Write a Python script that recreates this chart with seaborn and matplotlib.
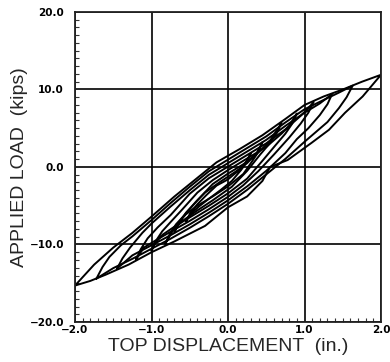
import matplotlib
matplotlib.use("Agg")
import matplotlib.pyplot as plt
from matplotlib.ticker import MultipleLocator, FixedLocator
import seaborn as sns
import pandas as pd

# ---- data (displacement in inches, load in kips) ----
# each cycle: negative tip -> upper branch -> positive tip -> lower branch -> negative tip
disp_1 = [-2.0, -1.75, -1.5, -1.25, -1.0, -0.7, -0.4, -0.15, 0.15, 0.45, 0.75, 1.0, 1.25, 1.5, 1.75, 2.0,
          1.76, 1.53, 1.32, 1.09, 0.78, 0.55, 0.45, 0.25, 0.0, -0.3, -0.7, -1.0, -1.3, -1.6, -1.8, -2.0]
load_1 = [-15.3, -12.6, -10.4, -8.5, -6.4, -3.8, -1.4, 0.6, 2.3, 4.1, 6.2, 8.0, 9.1, 10.0, 11.0, 11.9,
          9.1, 7.0, 4.8, 3.1, 0.9, 0.0, -1.8, -3.8, -5.2, -7.6, -9.6, -11.0, -12.6, -13.9, -14.7, -15.3]

disp_2 = [-1.72, -1.64, -1.55, -1.4, -1.25, -1.0, -0.75, -0.5, -0.25, 0.0, 0.25, 0.5, 0.75, 1.0, 1.25, 1.45, 1.63,
          1.55, 1.45, 1.3, 1.0, 0.75, 0.5, 0.25, 0.0, -0.25, -0.5, -0.75, -1.0, -1.25, -1.5, -1.72]
load_2 = [-14.4, -12.9, -11.6, -10.1, -8.95, -6.85, -4.65, -2.55, -0.55, 0.95, 2.45, 3.95, 5.75, 7.45, 8.65, 9.6, 10.5,
          9.0, 7.6, 5.8, 3.25, 1.05, -0.95, -2.95, -4.75, -6.35, -7.85, -9.25, -10.55, -11.85, -13.05, -14.4]

disp_3 = [-1.45, -1.38, -1.28, -1.12, -1.0, -0.75, -0.5, -0.25, 0.0, 0.25, 0.5, 0.75, 1.0, 1.2, 1.36,
          1.3, 1.2, 1.05, 0.9, 0.75, 0.5, 0.25, 0.0, -0.25, -0.5, -0.75, -1.0, -1.25, -1.45]
load_3 = [-13.1, -11.8, -10.4, -8.5, -7.3, -5.1, -3.0, -1.0, 0.5, 2.0, 3.5, 5.3, 7.0, 8.2, 9.4,
          8.1, 6.7, 5.0, 3.6, 1.8, -0.5, -2.5, -4.3, -5.9, -7.4, -8.8, -10.1, -11.4, -13.1]

disp_4 = [-1.2, -1.14, -1.05, -0.92, -0.75, -0.5, -0.25, 0.0, 0.25, 0.5, 0.75, 0.95, 1.05, 1.12,
          1.05, 0.95, 0.8, 0.6, 0.4, 0.2, 0.0, -0.25, -0.5, -0.75, -0.95, -1.1, -1.2]
load_4 = [-11.9, -10.6, -9.2, -7.8, -6.2, -3.45, -1.45, 0.05, 1.55, 3.05, 4.85, 6.6, 7.6, 8.4,
          7.0, 5.6, 3.8, 1.6, -0.5, -2.35, -3.85, -5.45, -6.95, -8.35, -9.5, -10.4, -11.9]

disp_5 = [-1.0, -0.94, -0.86, -0.75, -0.6, -0.4, -0.2, 0.0, 0.25, 0.5, 0.7, 0.8, 0.9,
          0.84, 0.75, 0.62, 0.45, 0.25, 0.0, -0.25, -0.5, -0.7, -0.85, -0.95, -1.0]
load_5 = [-10.8, -9.5, -8.3, -7.1, -5.5, -3.3, -1.7, -0.4, 1.1, 2.6, 4.3, 5.3, 6.9,
          5.6, 4.3, 2.8, 0.8, -1.5, -3.4, -5.0, -6.5, -7.7, -8.7, -9.8, -10.8]

disp_6 = [-0.82, -0.76, -0.68, -0.55, -0.4, -0.2, 0.0, 0.2, 0.4, 0.55, 0.7,
          0.64, 0.55, 0.42, 0.25, 0.05, -0.2, -0.4, -0.6, -0.72, -0.82]
load_6 = [-9.9, -8.6, -7.4, -6.0, -4.3, -2.2, -0.85, 0.35, 1.9, 3.4, 5.7,
          4.4, 3.1, 1.6, -0.5, -2.55, -4.3, -5.6, -7.0, -8.2, -9.9]

disp_7 = [-0.7, -0.64, -0.55, -0.42, -0.3, -0.1, 0.1, 0.25, 0.37, 0.45,
          0.4, 0.32, 0.2, 0.0, -0.2, -0.4, -0.55, -0.64, -0.7]
load_7 = [-8.4, -7.2, -5.9, -4.5, -3.3, -1.9, -0.6, 0.5, 1.7, 3.2,
          2.0, 0.8, -0.9, -2.5, -3.8, -5.0, -6.1, -7.1, -8.4]

disp_8 = [-0.55, -0.49, -0.4, -0.28, -0.15, 0.0, 0.12, 0.22, 0.3,
          0.25, 0.17, 0.05, -0.1, -0.25, -0.38, -0.48, -0.55]
load_8 = [-7.0, -5.9, -4.8, -3.6, -2.4, -1.6, -0.6, 0.4, 1.8,
          0.7, -0.4, -1.8, -3.0, -4.1, -5.1, -6.0, -7.0]

x_ticks = [-2.0, -1.0, 0.0, 1.0, 2.0]
y_ticks = [-20.0, -10.0, 0.0, 10.0, 20.0]
x_label = "TOP DISPLACEMENT  (in.)"
y_label = "APPLIED LOAD  (kips)"

loops = [(disp_1, load_1), (disp_2, load_2), (disp_3, load_3), (disp_4, load_4),
         (disp_5, load_5), (disp_6, load_6), (disp_7, load_7), (disp_8, load_8)]
frames = []
for i, (d, l) in enumerate(loops):
    df_i = pd.DataFrame({"disp": d, "load": l})
    df_i["cycle"] = i
    frames.append(df_i)
df = pd.concat(frames, ignore_index=True)

sns.set_theme(style="white")
plt.rcParams["font.family"] = ["DejaVu Sans"]

fig = plt.figure(figsize=(3.9, 3.62), dpi=100)
ax = fig.add_axes([75 / 390, 1 - 322 / 362, 306 / 390, 310 / 362])

sns.lineplot(data=df, x="disp", y="load", units="cycle", estimator=None, sort=False,
             color="black", linewidth=1.4, ax=ax, legend=False)


def fmt(v):
    s = f"{abs(v):.1f}"
    return "\u2212" + s if v < 0 else s


ax.set_xlim(-2.0, 2.0)
ax.set_ylim(-20.0, 20.0)
ax.xaxis.set_major_locator(FixedLocator(x_ticks))
ax.yaxis.set_major_locator(FixedLocator(y_ticks))
ax.set_xticklabels([fmt(v) for v in x_ticks])
ax.set_yticklabels([fmt(v) for v in y_ticks])
ax.xaxis.set_minor_locator(MultipleLocator(0.1))
ax.yaxis.set_minor_locator(MultipleLocator(1.0))
ax.tick_params(axis="both", which="major", length=0, labelsize=7.5, colors="black")
ax.tick_params(axis="x", which="major", pad=2)
ax.tick_params(axis="y", which="major", pad=8)
ax.tick_params(axis="both", which="minor", length=3, width=0.8, direction="in", color="#333333")
ax.tick_params(which="minor", top=False, right=False, bottom=True, left=True)
for lab in ax.get_xticklabels() + ax.get_yticklabels():
    lab.set_fontweight("bold")

ax.grid(True, which="major", color="black", linewidth=1.2)
for s in ax.spines.values():
    s.set_color("#222222")
    s.set_linewidth(1.3)

ax.set_xlabel(x_label, fontsize=14, family=["Liberation Sans", "DejaVu Sans"], labelpad=2)
ax.set_ylabel(y_label, fontsize=14, family=["Liberation Sans", "DejaVu Sans"], labelpad=1)

fig.savefig("out.png", dpi=100)
